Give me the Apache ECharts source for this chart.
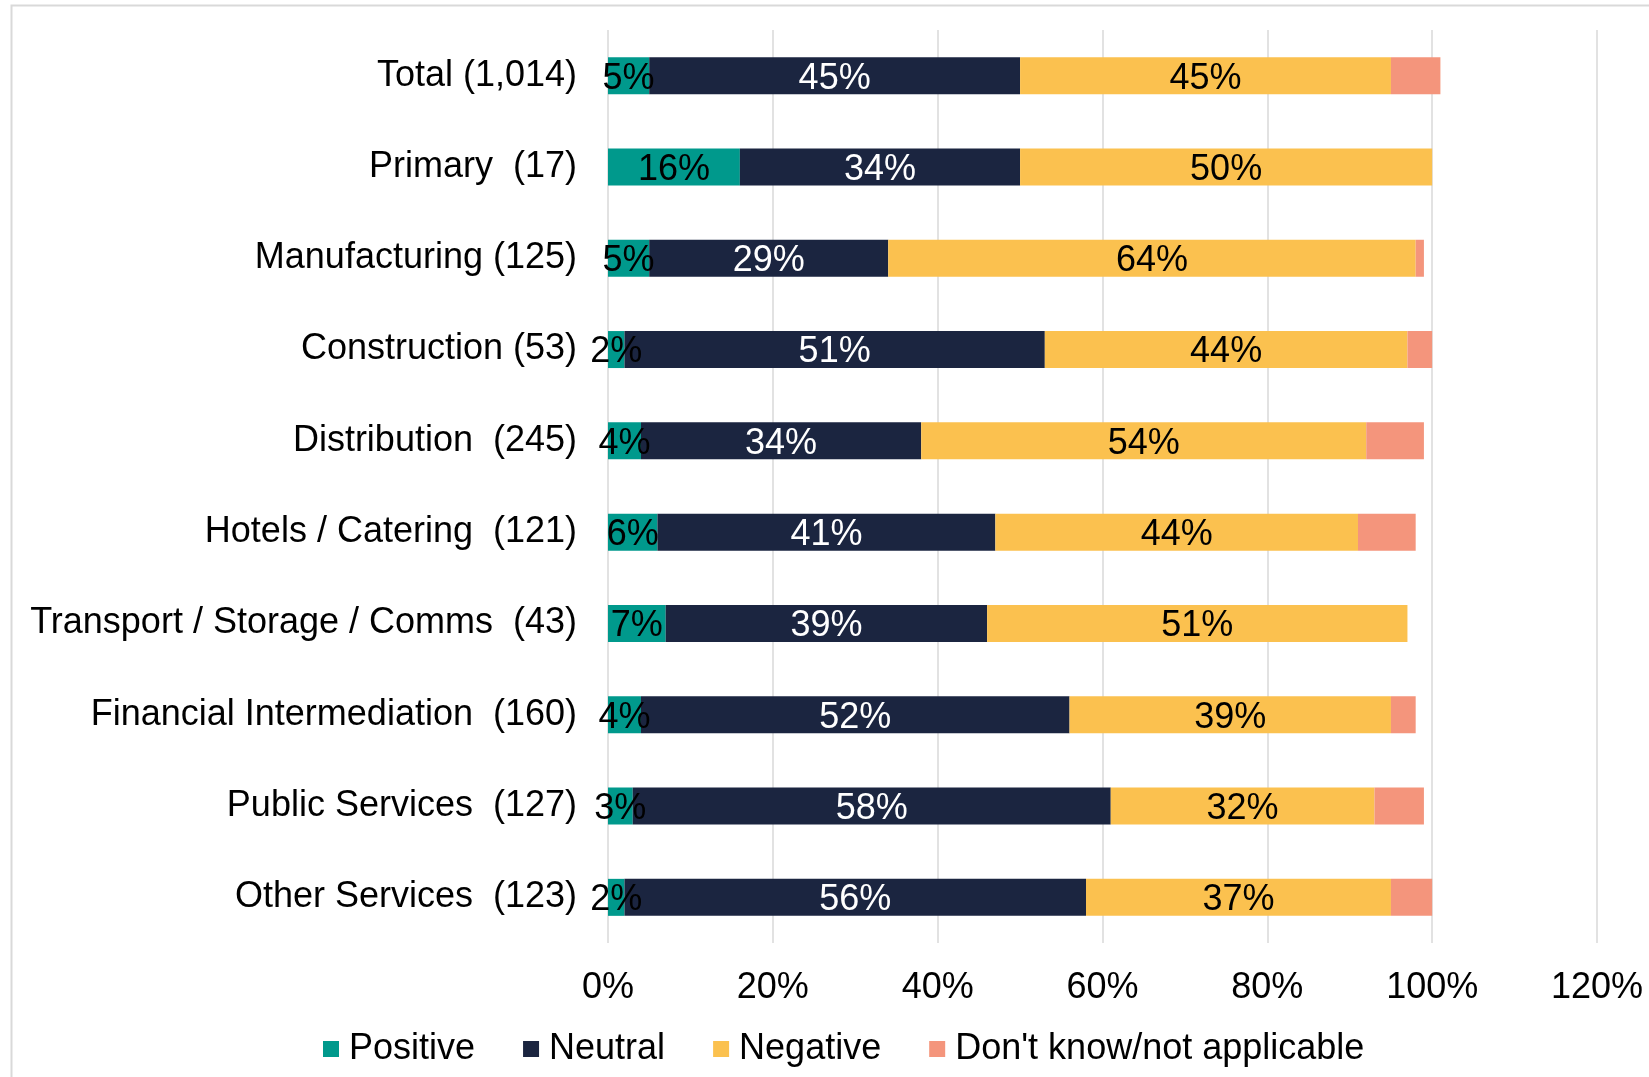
<!DOCTYPE html>
<html>
<head>
<meta charset="utf-8">
<title>Sector sentiment</title>
<script src="https://cdn.jsdelivr.net/npm/echarts@6/dist/echarts.min.js"></script>
<style>
    html, body { margin: 0; padding: 0; background: #fff; }
    #main { width: 1649px; height: 1077px; }
</style>
</head>
<body>
<div id="main"></div>
<script>
// 数据
var categories = ['Total (1,014)', 'Primary  (17)', 'Manufacturing (125)', 'Construction (53)',
    'Distribution  (245)', 'Hotels / Catering  (121)', 'Transport / Storage / Comms  (43)',
    'Financial Intermediation  (160)', 'Public Services  (127)', 'Other Services  (123)'];
var positive = [5, 16, 5, 2, 4, 6, 7, 4, 3, 2];
var neutral = [45, 34, 29, 51, 34, 41, 39, 52, 58, 56];
var negative = [45, 50, 64, 44, 54, 44, 51, 39, 32, 37];
var dontKnow = [6, 0, 1, 3, 7, 7, 0, 3, 6, 5];
var xTicks = [0, 20, 40, 60, 80, 100, 120];

var font = '"Liberation Sans", Arial, sans-serif';

function seg(name, data, color, labelColor) {
    return {
        name: name,
        type: 'bar',
        stack: 'all',
        barWidth: 37,
        data: data,
        itemStyle: { color: color },
        label: {
            show: labelColor != null,
            position: 'inside',
            offset: [0, 3],
            formatter: function (p) { return p.value > 0 ? p.value + '%' : ''; },
            color: labelColor,
            fontFamily: font,
            fontSize: 36
        },
        emphasis: { disabled: true }
    };
}

var chartDom = document.getElementById('main');
var myChart = echarts.init(chartDom);
var option;

option = {
    animation: false,
    backgroundColor: '#fff',
    textStyle: { fontFamily: font },
    graphic: [{
        type: 'rect',
        shape: { x: 11.5, y: 5.5, width: 1800, height: 1200 },
        style: { fill: 'none', stroke: '#D9D9D9', lineWidth: 2 },
        silent: true,
        z: -1
    }],
    grid: {
        left: 608,
        right: 52,
        top: 30,
        bottom: 134
    },
    legend: {
        left: 318,
        top: 1026,
        itemWidth: 16,
        itemHeight: 16,
        itemGap: 48,
        icon: 'rect',
        textStyle: {
            fontFamily: font,
            fontSize: 36,
            color: '#000',
            padding: [0, 0, 0, 5]
        },
        data: ['Positive', 'Neutral', 'Negative', "Don't know/not applicable"]
    },
    xAxis: {
        type: 'value',
        min: xTicks[0],
        max: xTicks[xTicks.length - 1],
        interval: 20,
        axisLine: { show: false },
        axisTick: { show: false },
        splitLine: { show: true, lineStyle: { color: '#D9D9D9', width: 1.5 } },
        axisLabel: {
            formatter: '{value}%',
            fontFamily: font,
            fontSize: 36,
            color: '#000',
            margin: 27
        }
    },
    yAxis: {
        type: 'category',
        inverse: true,
        data: categories,
        axisLine: { show: false },
        axisTick: { show: false },
        axisLabel: {
            fontFamily: font,
            fontSize: 36,
            color: '#000',
            margin: 31,
            padding: [10, 0, 0, 0]
        }
    },
    series: [
        seg('Positive', positive, '#00998C', '#000'),
        seg('Neutral', neutral, '#1B2540', '#fff'),
        seg('Negative', negative, '#FBC14F', '#000'),
        seg("Don't know/not applicable", dontKnow, '#F4957C', null)
    ]
};

option && myChart.setOption(option);
</script>
</body>
</html>
